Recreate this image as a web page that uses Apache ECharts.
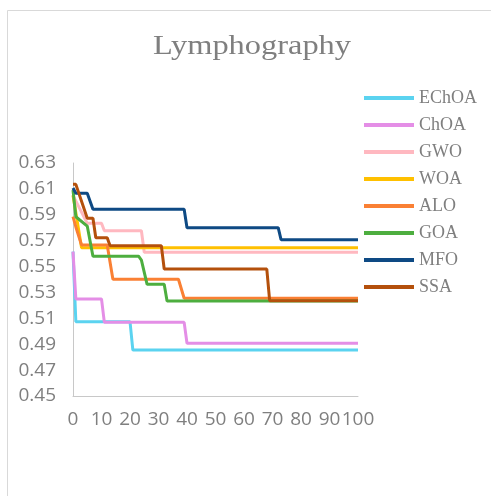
<!DOCTYPE html>
<html>
<head>
<meta charset="utf-8">
<script src="https://cdn.jsdelivr.net/npm/echarts@6/dist/echarts.min.js"></script>
<style>
  html, body { margin: 0; padding: 0; background: #fff; }
  #chart { width: 491px; height: 496px; }
</style>
</head>
<body>
<div id="chart"></div>
<script>
// Convergence curves: best fitness per iteration (breakpoints of each step curve)
const seriesNames = ['EChOA', 'ChOA', 'GWO', 'WOA', 'ALO', 'GOA', 'MFO', 'SSA'];
const seriesColors = ['#5BD3F0', '#E48EE6', '#FFB8C0', '#FFC000', '#FA8034', '#4DAE3F', '#0E4A84', '#B4500C'];
const chartTitle = 'Lymphography';

const echoaIter = [0, 1, 20, 21, 100];
const echoaFit  = [0.5615, 0.5074, 0.5074, 0.4855, 0.4855];

const choaIter = [0, 1, 10, 11, 39, 40, 100];
const choaFit  = [0.5615, 0.5250, 0.5250, 0.5069, 0.5069, 0.4907, 0.4907];

const gwoIter = [0, 5, 10, 11, 24, 25, 100];
const gwoFit  = [0.6050, 0.5834, 0.5834, 0.5777, 0.5777, 0.5610, 0.5610];

const woaIter = [0, 3, 100];
const woaFit  = [0.6050, 0.5646, 0.5646];

const aloIter = [0, 1, 3, 12, 14, 37, 39, 100];
const aloFit  = [0.5885, 0.5806, 0.5667, 0.5667, 0.5402, 0.5402, 0.5255, 0.5255];

const goaIter = [0, 1, 5, 7, 23, 24, 26, 32, 33, 100];
const goaFit  = [0.6090, 0.5885, 0.5813, 0.5580, 0.5580, 0.5550, 0.5363, 0.5363, 0.5234, 0.5234];

const mfoIter = [0, 1, 5, 7, 39, 40, 72, 73, 100];
const mfoFit  = [0.6107, 0.6066, 0.6066, 0.5942, 0.5942, 0.5800, 0.5800, 0.5708, 0.5708];

const ssaIter = [0, 1, 5, 7, 8, 12, 13, 31, 32, 68, 69, 100];
const ssaFit  = [0.6135, 0.6135, 0.5873, 0.5873, 0.5723, 0.5723, 0.5661, 0.5661, 0.5481, 0.5481, 0.5236, 0.5236];

const iterLists = [echoaIter, choaIter, gwoIter, woaIter, aloIter, goaIter, mfoIter, ssaIter];
const fitLists  = [echoaFit, choaFit, gwoFit, woaFit, aloFit, goaFit, mfoFit, ssaFit];

const yMin = 0.45, yMax = 0.63, yStep = 0.02;
const xMin = 0, xMax = 100, xStep = 10;

const chart = echarts.init(document.getElementById('chart'), null, { renderer: 'canvas' });

const series = seriesNames.map((name, i) => ({
  name: name,
  type: 'line',
  data: iterLists[i].map((it, k) => [it, fitLists[i][k]]),
  showSymbol: false,
  symbol: 'none',
  lineStyle: { width: 3, color: seriesColors[i] },
  itemStyle: { color: seriesColors[i] },
  z: 2 + i
}));

chart.setOption({
  animation: false,
  backgroundColor: '#fff',
  graphic: [
    {
      // chart frame (left and top edges visible)
      type: 'rect',
      shape: { x: 7.5, y: 10.5, width: 600, height: 600 },
      style: { fill: 'none', stroke: '#d9d9d9', lineWidth: 1 },
      silent: true,
      z: -1
    },
    {
      // title, set in a slightly widened serif face
      type: 'text',
      x: 252,
      y: 47,
      scaleX: 1.2,
      style: {
        text: chartTitle,
        fontFamily: 'Liberation Serif',
        fontSize: 27,
        fill: '#7f7f7f',
        textAlign: 'center',
        textVerticalAlign: 'middle'
      },
      silent: true
    }
  ],
  legend: {
    orient: 'vertical',
    left: 359,
    top: 84,
    icon: 'rect',
    itemWidth: 50,
    itemHeight: 4,
    itemGap: 9,
    data: seriesNames,
    textStyle: { fontFamily: 'Liberation Serif', fontSize: 18, color: '#7f7f7f', lineHeight: 18 }
  },
  grid: { left: 73, right: 133, top: 163, bottom: 100, containLabel: false },
  xAxis: {
    type: 'value',
    min: xMin, max: xMax, interval: xStep,
    axisLine: { show: true, lineStyle: { color: '#c8c8c8', width: 1 } },
    axisTick: { show: false },
    splitLine: { show: false },
    axisLabel: { margin: 14, fontFamily: 'Open Sans', fontSize: 19, color: '#7f7f7f' }
  },
  yAxis: {
    type: 'value',
    min: yMin, max: yMax, interval: yStep,
    axisLine: { show: true, lineStyle: { color: '#c8c8c8', width: 1 } },
    axisTick: { show: false },
    splitLine: { show: false },
    axisLabel: {
      margin: 17, fontFamily: 'Open Sans', fontSize: 19, color: '#7f7f7f',
      formatter: v => v.toFixed(2)
    }
  },
  series: series
});
</script>
</body>
</html>
